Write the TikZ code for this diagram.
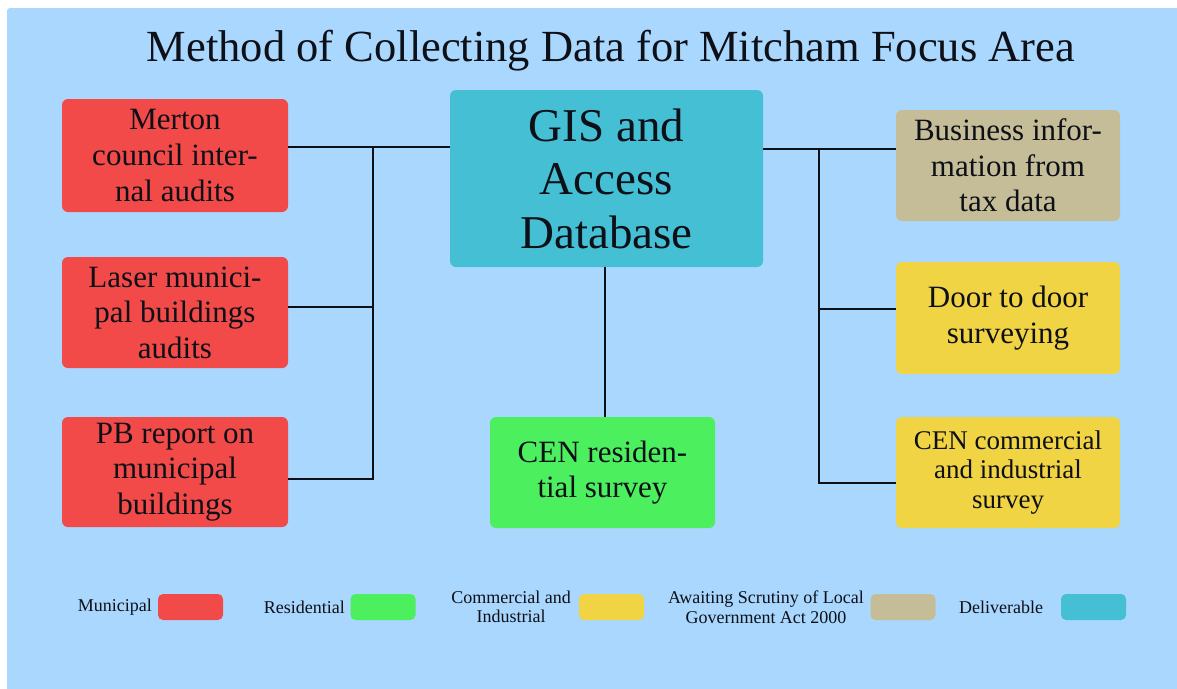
\documentclass[tikz,border=0pt]{standalone}
\usepackage{fontspec}
\setmainfont{Liberation Serif}
\definecolor{bg}{HTML}{A9D7FD}
\definecolor{muni}{HTML}{F24A48}
\definecolor{resi}{HTML}{4CEF5E}
\definecolor{comm}{HTML}{F0D444}
\definecolor{await}{HTML}{C5BD98}
\definecolor{deliv}{HTML}{45BFD4}
\definecolor{ink}{HTML}{0E1018}
\tikzset{
  card/.style={rounded corners=6pt, align=center, text=ink, inner sep=0pt,
    font=\fontsize{31}{35.5}\selectfont},
  sidecard/.style={card, minimum width=226pt, minimum height=111pt},
  swatch/.style={rounded corners=5pt, minimum width=65pt, minimum height=26pt, inner sep=0pt},
  keytext/.style={text=ink, align=center, inner sep=0pt, font=\fontsize{18}{19.5}\selectfont},
  link/.style={draw=ink, line width=2.6pt}
}
\begin{document}
\begin{tikzpicture}[x=1pt,y=-1pt]
\useasboundingbox (0,0) rectangle (1177,688);
\fill[white] (0,0) rectangle (1177,688);
\fill[bg, rounded corners=3pt] (7,8) rectangle (1180,691);

% title
\node[text=ink, anchor=base, inner sep=0pt, font=\fontsize{44.5}{50}\selectfont] (title) at (611,61)
  {Method of Collecting Data for Mitcham Focus Area};

% central deliverable
\node[card, fill=deliv, minimum width=313pt, minimum height=177pt,
  font=\fontsize{47}{53.5}\selectfont] (gis) at (606.5,178.5) {GIS and\\Access\\Database};

% municipal sources
\node[sidecard, fill=muni, minimum height=113pt] (m1) at (175,155.5) {Merton\\council inter-\\nal audits};
\node[sidecard, fill=muni] (m2) at (175,312.5) {Laser munici-\\pal buildings\\audits};
\node[sidecard, fill=muni, minimum height=110pt] (m3) at (175,472) {PB report on\\municipal\\buildings};

% residential source
\node[sidecard, fill=resi, minimum width=225pt] (r1) at (602.5,472.5) {CEN residen-\\tial survey};

% commercial / pending sources
\node[sidecard, fill=await, minimum width=224pt] (b1) at (1008,165.5) {Business infor-\\mation from\\tax data};
\node[sidecard, fill=comm, minimum width=224pt, minimum height=112pt] (b2) at (1008,318) {Door to door\\surveying};
\node[sidecard, fill=comm, minimum width=224pt, font=\fontsize{27}{29.5}\selectfont] (b3) at (1008,472.5)
  {CEN commercial\\and industrial\\survey};

% bus junctions
\coordinate (lt) at (373,147);
\coordinate (lm) at (373,307);
\coordinate (lb) at (373,479);
\coordinate (rt) at (819,149);
\coordinate (rm) at (819,309);
\coordinate (rb) at (819,483);
\coordinate (cm) at (605,300);

% left bus
\draw[link] (m1.east |- lt) -- (gis.west |- lt);
\draw[link, line cap=rect] (lt) -- (lb);
\draw[link] (m2.east |- lm) -- (lm);
\draw[link] (m3.east |- lb) -- (lb);
% right bus
\draw[link] (gis.east |- rt) -- (b1.west |- rt);
\draw[link, line cap=rect] (rt) -- (rb);
\draw[link] (rm) -- (b2.west |- rm);
\draw[link] (rb) -- (b3.west |- rb);
% centre drop
\draw[link] (gis.south -| cm) -- (r1.north -| cm);

% key
\node[swatch, fill=muni] (k1) at (190.5,607) {};
\node[keytext, anchor=east] (k1t) at (152,607) {Municipal};
\node[swatch, fill=resi] (k2) at (383,607) {};
\node[keytext, anchor=east] (k2t) at (345,607) {Residential};
\node[swatch, fill=comm] (k3) at (611.5,607) {};
\node[keytext] (k3t) at (511,607) {Commercial and\\Industrial};
\node[swatch, fill=await] (k4) at (903,607) {};
\node[keytext] (k4t) at (766,607) {Awaiting Scrutiny of Local\\Government Act 2000};
\node[swatch, fill=deliv] (k5) at (1093.5,607) {};
\node[keytext] (k5t) at (1001,607) {Deliverable};
\end{tikzpicture}
\end{document}
